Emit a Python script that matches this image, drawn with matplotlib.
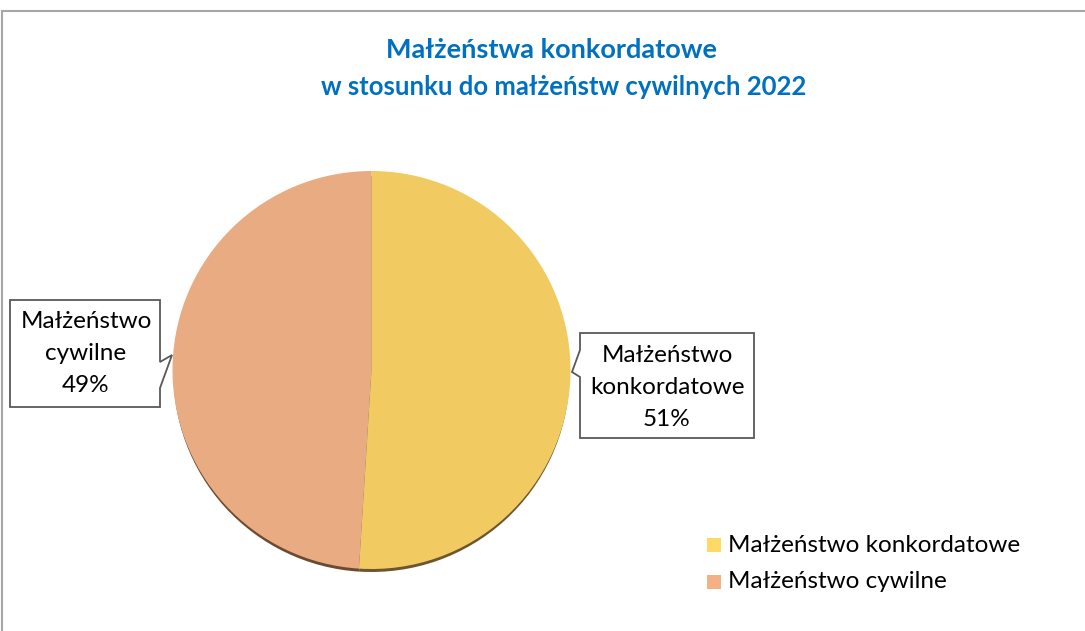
import numpy as np
import matplotlib
matplotlib.use("Agg")
from matplotlib import pyplot as plt
from matplotlib.patches import Polygon, Rectangle

plt.rcParams['font.family'] = ['Lato', 'DejaVu Sans']

title_lines = ["Małżeństwa konkordatowe", "w stosunku do małżeństw cywilnych 2022"]
categories = ["Małżeństwo konkordatowe", "Małżeństwo cywilne"]
label_lines = [["Małżeństwo", "konkordatowe"], ["Małżeństwo", "cywilne"]]
shares = [51, 49]
pie_colors = ["#F1CB62", "#E8AB82"]
legend_colors = ["#FFD966", "#F4B183"]

W, H = 1085, 631
fig = plt.figure(figsize=(W / 100, H / 100), dpi=100)
ax = fig.add_axes([0, 0, 1, 1])

def Y(y):
    # image pixel row -> data y
    return H - y

cx, cy, r = 371.5, Y(370), 199

# shadow under the pie
ax.pie(shares, radius=r - 1, center=(cx, cy - 4), startangle=90, counterclock=False,
       colors=["#6E5530", "#6B4A30"], wedgeprops=dict(linewidth=0))
wedges, _ = ax.pie(shares, radius=r, center=(cx, cy), startangle=90, counterclock=False,
                   colors=pie_colors, wedgeprops=dict(linewidth=0))

ax.set_xlim(0, W)
ax.set_ylim(0, H)
ax.set_aspect('auto')
ax.axis('off')

# frame lines (top and left)
ax.plot([2, W], [Y(11), Y(11)], color="#A6A6A6", lw=1.5)
ax.plot([2, 2], [Y(11), 0], color="#A6A6A6", lw=1.5)

# title
ax.text(551, Y(50), title_lines[0], ha='center', va='center', fontsize=19.5,
        fontweight='bold', color="#0070C0")
ax.text(564, Y(87), title_lines[1], ha='center', va='center', fontsize=18.5,
        fontweight='bold', color="#0070C0")

# callouts
bubbles = [
    # right bubble (konkordatowe)
    [(580, 333), (754, 333), (754, 438), (580, 438), (580, 377), (572, 372), (580, 350)],
    # left bubble (cywilne)
    [(10, 300), (160, 300), (160, 362), (172, 355), (160, 388), (160, 407), (10, 407)],
]
text_pos = [(667, [355, 387, 419]), (86, [322, 353, 385])]
for i in range(len(categories)):
    pts = [(x, Y(y)) for x, y in bubbles[i]]
    ax.add_patch(Polygon(pts, closed=True, facecolor='white', edgecolor='#595959', lw=1.3))
    lines = label_lines[i] + [f"{shares[i]}%"]
    tx, tys = text_pos[i]
    for line, ty in zip(lines, tys):
        ax.text(tx, Y(ty), line, ha='center', va='center', fontsize=17.5, color='black')

# legend
leg_y = [545, 582]
for i in range(len(categories)):
    ax.add_patch(Rectangle((707, Y(leg_y[i]) - 7), 14, 14, facecolor=legend_colors[i], lw=0))
    ax.text(728, Y(leg_y[i]), categories[i], ha='left', va='center', fontsize=17.5, color='black')

fig.savefig('out.png', dpi=100)
